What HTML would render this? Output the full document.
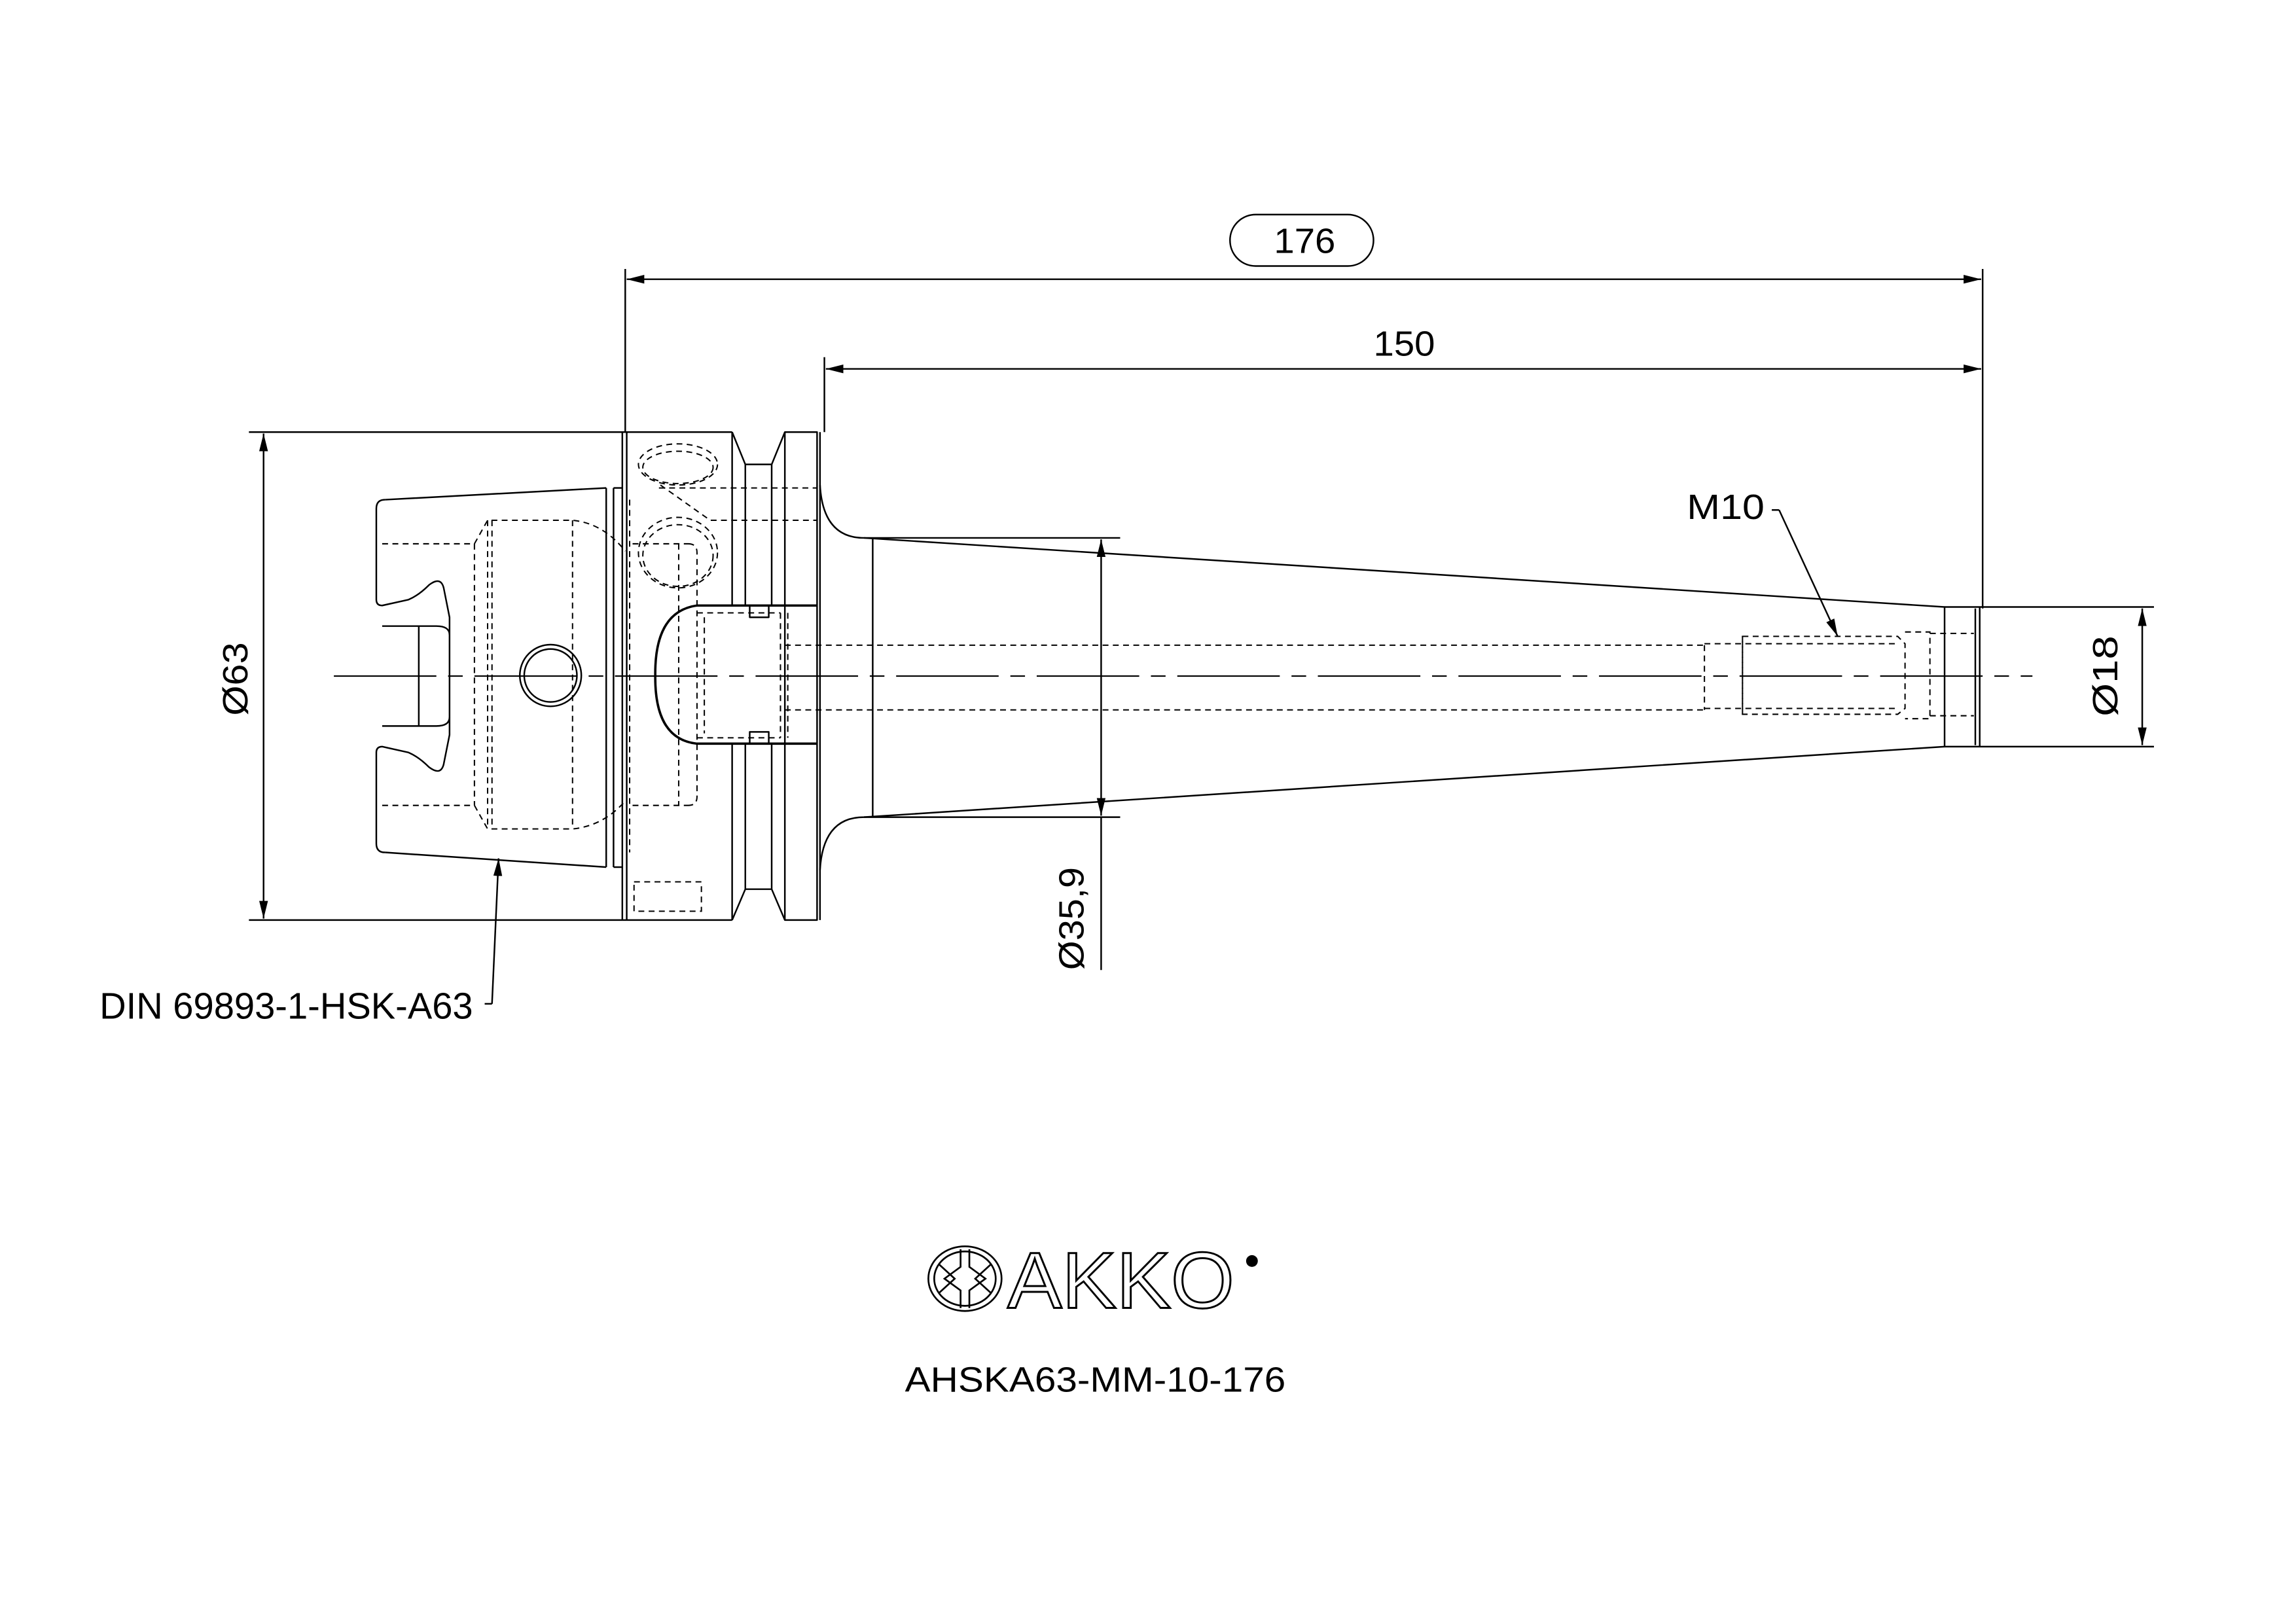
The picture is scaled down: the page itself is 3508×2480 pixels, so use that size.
<!DOCTYPE html>
<html><head><meta charset="utf-8"><style>
html,body{margin:0;padding:0;background:#fff;}
svg{display:block;}
text{font-family:"Liberation Sans",sans-serif;fill:#000;}
</style></head><body>
<svg width="3508" height="2480" viewBox="0 0 1568 1104.3" preserveAspectRatio="none" xmlns="http://www.w3.org/2000/svg">
<defs>
<marker id="ar" viewBox="0 0 12 6" refX="12" refY="3" markerWidth="12" markerHeight="6" markerUnits="userSpaceOnUse" orient="auto-start-reverse">
<path d="M0,0 L12,3 L0,6 Z" fill="#000"/>
</marker>
</defs>
<g fill="none" stroke="#000" stroke-width="1.1" stroke-linejoin="round">
<!-- dimension 176 -->
<line x1="427" y1="183" x2="427" y2="294"/>
<line x1="1354" y1="183" x2="1354" y2="414"/>
<line x1="428" y1="190" x2="1353" y2="190" marker-start="url(#ar)" marker-end="url(#ar)"/>
<rect x="840" y="146" width="98" height="35" rx="17.5"/>
<!-- 150 -->
<line x1="563" y1="243" x2="563" y2="294"/>
<line x1="564" y1="251" x2="1353" y2="251" marker-start="url(#ar)" marker-end="url(#ar)"/>
<!-- Ø63 -->
<line x1="170" y1="294" x2="500" y2="294"/>
<line x1="170" y1="626" x2="500" y2="626"/>
<line x1="180" y1="295" x2="180" y2="625" marker-start="url(#ar)" marker-end="url(#ar)"/>
<!-- Ø35,9 -->
<line x1="590" y1="366" x2="765" y2="366"/>
<line x1="590" y1="556" x2="765" y2="556"/>
<line x1="752" y1="367" x2="752" y2="555" marker-start="url(#ar)" marker-end="url(#ar)"/>
<line x1="752" y1="556" x2="752" y2="660"/>
<!-- Ø18 -->
<line x1="1328" y1="413" x2="1471" y2="413"/>
<line x1="1328" y1="508" x2="1471" y2="508"/>
<line x1="1463" y1="414" x2="1463" y2="507" marker-start="url(#ar)" marker-end="url(#ar)"/>
<!-- M10 leader -->
<line x1="1210" y1="347" x2="1215" y2="347"/>
<line x1="1215" y1="347" x2="1255" y2="433" marker-end="url(#ar)"/>
<!-- DIN leader -->
<line x1="331" y1="683" x2="336" y2="683"/>
<line x1="336" y1="683" x2="340.5" y2="584" marker-end="url(#ar)"/>

<!-- HSK taper -->
<path d="M263,340 L414,332 M263,580 L414,590"/>
<path d="M263,340 Q257,340 257,346 L257,408 Q257,412 261,412 L279,408 Q286,405 293,398 Q301,392 303,400 L307,420 L307,500 L303,520 Q301,528 293,522 Q286,515 279,512 L261,508 Q257,508 257,512 L257,574 Q257,580 263,580"/>
<path d="M261,426 L298,426 Q307,426 307,432 M261,494 L298,494 Q307,494 307,488"/>
<path d="M286,426 L286,494"/>
<line x1="414" y1="332" x2="414" y2="590"/>
<line x1="419" y1="332" x2="419" y2="590"/>
<line x1="419" y1="332" x2="425" y2="332"/>
<line x1="419" y1="590" x2="425" y2="590"/>
<!-- flange 1 -->
<line x1="425" y1="294" x2="425" y2="626"/>
<line x1="428" y1="294" x2="428" y2="626"/>
<path d="M500,294 L509,316 L527,316 L536,294 L558,294 L558,626 L536,626 L527,605 L509,605 L500,626"/>
<line x1="500" y1="294" x2="500" y2="412"/>
<line x1="500" y1="506" x2="500" y2="626"/>
<line x1="509" y1="316" x2="509" y2="412"/>
<line x1="509" y1="506" x2="509" y2="605"/>
<line x1="527" y1="316" x2="527" y2="412"/>
<line x1="527" y1="506" x2="527" y2="605"/>
<line x1="536" y1="294" x2="536" y2="626"/>
<line x1="560" y1="294" x2="560" y2="626"/>
<!-- dome -->
<path d="M558,412 L476,412 Q447,416 447.5,459.6 Q447,503 476,506 L558,506" stroke-width="1.6"/>
<path d="M512,412 L512,420 L525,420 L525,412 M512,506 L512,498 L525,498 L525,506"/>
<!-- taper -->
<path d="M560,330 Q562,366 590,366 L1328,413 L1328,508 L590,556 Q562,556 560,592"/>
<line x1="596" y1="366" x2="596" y2="556"/>
<line x1="1352" y1="413" x2="1352" y2="508"/>
<line x1="1349" y1="414" x2="1349" y2="507"/>
<!-- centerline -->
<line x1="228" y1="460" x2="1388" y2="460" stroke-width="0.9" stroke-dasharray="70 8 10 8"/>
<!-- cross hole -->
<circle cx="376" cy="459.6" r="21"/>
<circle cx="376" cy="459.6" r="18"/>
</g>
<g fill="none" stroke="#000" stroke-width="0.9" stroke-dasharray="4 3">
<line x1="261" y1="370" x2="324" y2="370"/>
<line x1="261" y1="548" x2="324" y2="548"/>
<path d="M324,370 L324,548 M324,370 L333,354 L391,354 Q412,356 427,375 M324,548 L333,564 L391,564 Q412,562 427,545"/>
<line x1="333" y1="354" x2="333" y2="564"/>
<line x1="336" y1="354" x2="336" y2="564"/>
<line x1="391" y1="354" x2="391" y2="564"/>
<line x1="430" y1="340" x2="430" y2="580"/>
<line x1="432" y1="370" x2="470" y2="370"/>
<line x1="432" y1="548" x2="470" y2="548"/>
<path d="M463.5,370 L463.5,548 M470,370 Q476,370 476,376 L476,542 Q476,548 470,548"/>
<ellipse cx="463" cy="316" rx="27" ry="14"/>
<ellipse cx="463" cy="318" rx="24" ry="11"/>
<ellipse cx="463" cy="376" rx="27" ry="24"/>
<ellipse cx="463" cy="378" rx="24" ry="21"/>
<path d="M450,332 L558,332 M451,330 L485,354 L558,354"/>
<rect x="433" y="600" width="46" height="20"/>
<path d="M476,417 L533,417 M476,502 L533,502 M481,420 L481,499 M533,417 L533,502 M538,417 L538,502"/>
<path d="M536,439 L1164,439 M536,483 L1164,483 M1164,439 L1164,483"/>
<path d="M1190,433 L1296,433 L1301,438 L1301,482 L1296,486 L1190,486 Z"/>
<path d="M1164,438 L1296,438 M1164,482 L1296,482 M1190,433 L1190,486"/>
<path d="M1301,430 L1318,430 L1318,489 L1301,489 M1318,431 L1348,431 M1318,487 L1348,487"/>
</g>
<!-- labels -->
<text x="891" y="172" font-size="24" text-anchor="middle" textLength="42" lengthAdjust="spacingAndGlyphs">176</text>
<text x="959" y="242" font-size="24" text-anchor="middle" textLength="42" lengthAdjust="spacingAndGlyphs">150</text>
<text transform="translate(169,462) rotate(-90)" font-size="24" text-anchor="middle" textLength="50" lengthAdjust="spacingAndGlyphs">Ø63</text>
<text transform="translate(740,625) rotate(-90)" font-size="24" text-anchor="middle" textLength="70" lengthAdjust="spacingAndGlyphs">Ø35,9</text>
<text transform="translate(1446,460) rotate(-90)" font-size="24" text-anchor="middle" textLength="55" lengthAdjust="spacingAndGlyphs">Ø18</text>
<text x="1152" y="353" font-size="24" textLength="53" lengthAdjust="spacingAndGlyphs">M10</text>
<text x="68" y="693" font-size="25" textLength="255" lengthAdjust="spacingAndGlyphs">DIN 69893-1-HSK-A63</text>
<text x="618" y="947" font-size="24" textLength="260" lengthAdjust="spacingAndGlyphs">AHSKA63-MM-10-176</text>
<!-- logo -->
<g fill="none" stroke="#000" stroke-width="1.2">
<ellipse cx="659" cy="870" rx="25" ry="22"/>
<ellipse cx="659" cy="870" rx="21" ry="18.5"/>
<path d="M656,850 L656,862 L645,870 L656,878 L656,890 M662,850 L662,862 L673,870 L662,878 L662,890"/>
<path d="M641,860 L652,870 L641,880 M677,860 L666,870 L677,880"/>
</g>
<text x="688" y="890" font-size="54" fill="#fff" stroke="#000" stroke-width="1.3" textLength="155" lengthAdjust="spacingAndGlyphs" style="fill:#fff">AKKO</text>
<circle cx="855" cy="858" r="4" fill="#000"/>
</svg>
</body></html>
